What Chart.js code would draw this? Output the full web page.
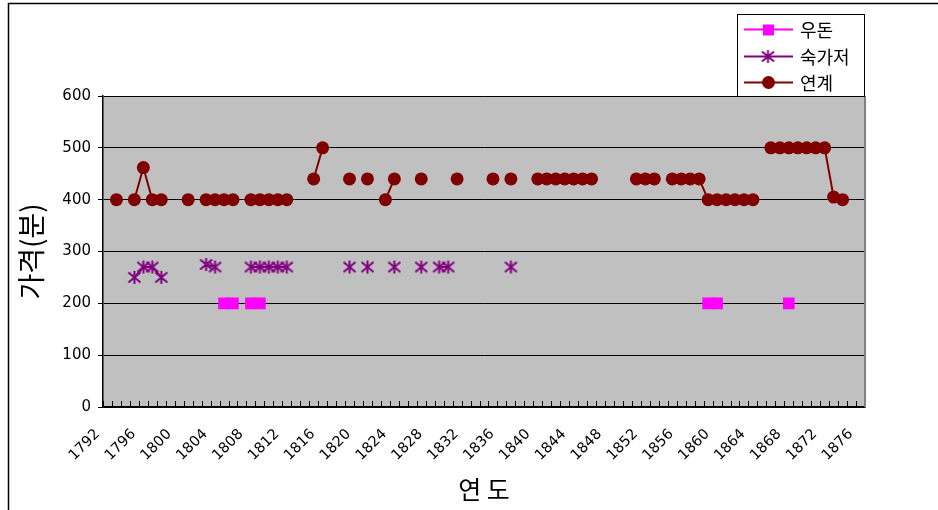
<!DOCTYPE html>
<html><head><meta charset="utf-8">
<script src="https://cdn.jsdelivr.net/npm/chart.js@4.4.0/dist/chart.umd.min.js"></script>
<style>html,body{margin:0;padding:0;background:#fff;overflow:hidden;}</style>
</head><body>
<canvas id="c" width="938" height="510" style="display:block;width:938px;height:510px"></canvas>
<script>
const years = ['1792','1793','1794','1795','1796','1797','1798','1799','1800','1801','1802','1803','1804','1805','1806','1807','1808','1809','1810','1811','1812','1813','1814','1815','1816','1817','1818','1819','1820','1821','1822','1823','1824','1825','1826','1827','1828','1829','1830','1831','1832','1833','1834','1835','1836','1837','1838','1839','1840','1841','1842','1843','1844','1845','1846','1847','1848','1849','1850','1851','1852','1853','1854','1855','1856','1857','1858','1859','1860','1861','1862','1863','1864','1865','1866','1867','1868','1869','1870','1871','1872','1873','1874','1875','1876'];

const yTicks = [0,100,200,300,400,500,600];

const udonYears  = [1805,1806,1808,1809,1859,1860,1868];
const udonValues = [200,200,200,200,200,200,200];

const sukYears  = [1795,1796,1797,1798,1803,1804,1808,1809,1810,1811,1812,1819,1821,1824,1827,1829,1830,1837];
const sukValues = [250,270,270,250,275,270,270,270,270,270,270,270,270,270,270,270,270,270];

const yeonYears  = [1793,1795,1796,1797,1798,1801,1803,1804,1805,1806,1808,1809,1810,1811,1812,1815,1816,1819,1821,1823,1824,1827,1831,1835,1837,1840,1841,1842,1843,1844,1845,1846,1851,1852,1853,1855,1856,1857,1858,1859,1860,1861,1862,1863,1864,1866,1867,1868,1869,1870,1871,1872,1873,1874];
const yeonValues = [400,400,462,400,400,400,400,400,400,400,400,400,400,400,400,440,500,440,440,400,440,440,440,440,440,440,440,440,440,440,440,440,440,440,440,440,440,440,440,400,400,400,400,400,400,500,500,500,500,500,500,500,405,400];

function toSeries(ys, vs){
  const out = years.map(()=>null);
  ys.forEach((y,i)=>{ out[years.indexOf(String(y))] = vs[i]; });
  return out;
}

function makeStar(color){
  const s = 15;
  const c = document.createElement('canvas');
  c.width = s; c.height = s;
  const g = c.getContext('2d');
  g.strokeStyle = color; g.lineWidth = 2;
  g.beginPath();
  g.moveTo(7.5,1); g.lineTo(7.5,14);
  g.moveTo(1.5,2.5); g.lineTo(13.5,12.5);
  g.moveTo(13.5,2.5); g.lineTo(1.5,12.5);
  g.stroke();
  return c;
}
const starImg = makeStar('#800080');

const bgPlugin = {
  id: 'bg',
  beforeDraw(chart){
    const {ctx, chartArea:a} = chart;
    ctx.save();
    ctx.fillStyle = '#C0C0C0';
    ctx.fillRect(a.left, a.top, a.right-a.left, a.bottom-a.top);
    ctx.restore();
  }
};

const decoPlugin = {
  id: 'deco',
  afterDraw(chart){
    const {ctx, chartArea:a} = chart;
    const xs = chart.scales.x;
    ctx.save();
    const step = xs.getPixelForValue(1) - xs.getPixelForValue(0);
    ctx.strokeStyle = '#000'; ctx.lineWidth = 1;
    ctx.beginPath();
    for (let i = 0; i <= years.length; i++){
      const x = Math.round(xs.getPixelForValue(i) - step/2) + 0.5;
      ctx.moveTo(x, a.bottom); ctx.lineTo(x, a.bottom - 6);
    }
    ctx.stroke();
    ctx.strokeStyle = '#808080'; ctx.lineWidth = 2;
    ctx.beginPath(); ctx.moveTo(a.right, a.top); ctx.lineTo(a.right, a.bottom); ctx.stroke();
    ctx.strokeStyle = '#000'; ctx.lineWidth = 1.5;
    ctx.beginPath();
    ctx.moveTo(8.5, 510); ctx.lineTo(8.5, 3.5); ctx.lineTo(938, 3.5);
    ctx.stroke();
    const lx = 737.5, ly = 14.5, lw = 127, lh = 82;
    ctx.fillStyle = '#fff'; ctx.fillRect(lx, ly, lw, lh);
    ctx.strokeStyle = '#000'; ctx.lineWidth = 1; ctx.strokeRect(lx, ly, lw, lh);
    const rows = [29.5, 56.5, 82.5];
    chart.data.datasets.forEach((ds, i) => {
      const y = rows[i];
      ctx.strokeStyle = ds.borderColor; ctx.lineWidth = 2;
      ctx.beginPath(); ctx.moveTo(744, y); ctx.lineTo(793, y); ctx.stroke();
      ctx.fillStyle = ds.pointBackgroundColor;
      if (i === 0) { ctx.fillRect(763, y-5, 11, 11); }
      else if (i === 1) { ctx.drawImage(starImg, 768-7.5, y-7.5); }
      else { ctx.beginPath(); ctx.arc(768.5, y, 6.5, 0, Math.PI*2); ctx.fill(); }
      ctx.fillStyle = '#000';
      ctx.font = '18px "Noto Sans CJK KR"';
      ctx.textBaseline = 'middle'; ctx.textAlign = 'left';
      ctx.fillText(ds.label, 800, y + 1);
    });
    ctx.restore();
  }
};

new Chart(document.getElementById('c'), {
  type: 'line',
  data: {
    labels: years,
    datasets: [
      { label: '우돈', data: toSeries(udonYears, udonValues), borderColor: '#FF00FF', backgroundColor: '#FF00FF',
        pointBackgroundColor: '#FF00FF', pointBorderColor: '#FF00FF', pointStyle: 'rect', pointRadius: 8.2, borderWidth: 2, pointBorderWidth: 0, spanGaps: false },
      { label: '숙가저', data: toSeries(sukYears, sukValues), borderColor: '#800080', backgroundColor: '#800080',
        pointBackgroundColor: '#800080', pointBorderColor: '#800080', pointStyle: starImg, pointRadius: 7, borderWidth: 2, spanGaps: false },
      { label: '연계', data: toSeries(yeonYears, yeonValues), borderColor: '#800000', backgroundColor: '#800000',
        pointBackgroundColor: '#800000', pointBorderColor: '#800000', pointStyle: 'circle', pointRadius: 6.5, pointBorderWidth: 0, borderWidth: 2, spanGaps: false }
    ]
  },
  options: {
    responsive: false,
    animation: false,
    layout: { padding: { left: 0, top: 96, right: 73, bottom: 0 } },
    plugins: { legend: { display: false }, tooltip: { enabled: false } },
    scales: {
      x: {
        type: 'category',
        offset: true,
        grid: { display: false, drawTicks: false },
        border: { display: true, color: '#000', width: 1.5 },
        ticks: {
          autoSkip: false, minRotation: 45, maxRotation: 45, padding: 9, color: '#000',
          font: { family: '"DejaVu Sans"', size: 14.5 },
          callback: function(v, i){ return (i % 4 === 0) ? years[i] + '   ' : ''; }
        },
        title: { display: true, text: '연 도', color: '#000', font: { family: '"Noto Sans CJK KR"', size: 25 }, padding: { top: 0, bottom: 6 } },
        afterFit(s){ s.height = 103; }
      },
      y: {
        min: 0, max: 600,
        afterBuildTicks(s){ s.ticks = yTicks.map(v => ({value: v})); },
        grid: { color: '#000', lineWidth: 1, tickLength: 5, drawTicks: true },
        border: { display: true, color: '#000', width: 1.5 },
        ticks: { padding: 7, color: '#000', font: { family: '"DejaVu Sans"', size: 15 } },
        title: { display: true, text: '가격(분)', color: '#000', font: { family: '"Noto Sans CJK KR"', size: 28 }, padding: { top: 15, bottom: 0 } },
        afterFit(s){ s.width = 103; }
      }
    }
  },
  plugins: [bgPlugin, decoPlugin]
});
</script>
</body></html>
